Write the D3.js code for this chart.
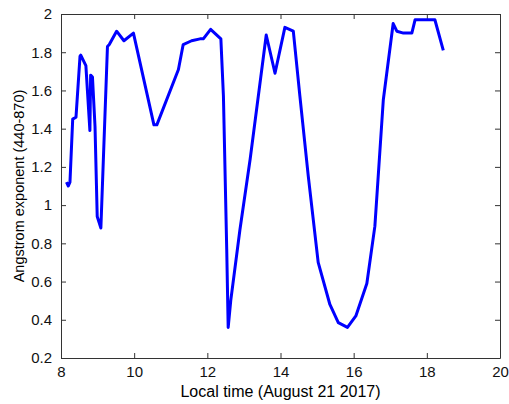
<!DOCTYPE html>
<html>
<head>
<meta charset="utf-8">
<script src="https://cdn.jsdelivr.net/npm/d3@7"></script>
<style>
  body { margin: 0; background: #fff; }
  svg { display: block; font-family: "Liberation Sans", Arial, sans-serif; }
  .axis path, .axis line { stroke: #333; }
  .axis text { font-size: 15px; fill: #111; }
</style>
</head>
<body>
<svg id="chart" width="509" height="404"></svg>
<script>
// Local time (hours) and Angstrom exponent (440-870)
const hours = [8.15, 8.2, 8.245, 8.32, 8.41, 8.52, 8.54, 8.68, 8.79, 8.81, 8.86, 8.93, 8.99, 9.09,
  9.27, 9.32, 9.52, 9.72, 9.98, 10.54, 10.62, 11.21, 11.34, 11.57, 11.8, 11.89, 12.09, 12.37,
  12.44, 12.53, 12.57, 12.64, 12.89, 13.17, 13.61, 13.85, 14.12, 14.35, 14.53, 14.76, 15.03,
  15.35, 15.58, 15.83, 16.06, 16.36, 16.58, 16.81, 17.08, 17.18, 17.36, 17.59, 17.68, 18.22, 18.45];
const angstrom = [1.12, 1.1, 1.12, 1.45, 1.46, 1.78, 1.785, 1.73, 1.39, 1.68, 1.67, 1.41, 0.94, 0.88,
  1.83, 1.84, 1.91, 1.86, 1.9, 1.42, 1.42, 1.71, 1.84, 1.86, 1.87, 1.87, 1.92, 1.87,
  1.57, 0.77, 0.36, 0.5, 0.87, 1.24, 1.89, 1.69, 1.93, 1.91, 1.57, 1.15, 0.7,
  0.48, 0.385, 0.36, 0.42, 0.59, 0.89, 1.55, 1.95, 1.91, 1.9, 1.9, 1.97, 1.97, 1.81];

const xTicks = [8, 10, 12, 14, 16, 18, 20];
const yTicks = [0.2, 0.4, 0.6, 0.8, 1, 1.2, 1.4, 1.6, 1.8, 2];

const svg = d3.select('#chart');
const margin = { top: 14, right: 9, bottom: 46, left: 61 };
const width = 509 - margin.left - margin.right;
const height = 404 - margin.top - margin.bottom;

const g = svg.append('g')
    .attr('transform', `translate(${margin.left},${margin.top})`);

const x = d3.scaleLinear().domain([8, 20]).range([0, width]);
const y = d3.scaleLinear().domain([0.2, 2]).range([height, 0]);

// box with inward ticks on all four sides (matlab style)
g.append('g').attr('class', 'axis')
    .attr('transform', `translate(0,${height})`)
    .call(d3.axisBottom(x).tickValues(xTicks).tickSize(-5).tickPadding(8).tickSizeOuter(0))
    .selectAll('text').attr('dy', '0.75em');
g.append('g').attr('class', 'axis')
    .call(d3.axisTop(x).tickValues(xTicks).tickSize(-5).tickFormat('').tickSizeOuter(0));
g.append('g').attr('class', 'axis')
    .call(d3.axisLeft(y).tickValues(yTicks).tickSize(-5).tickPadding(9).tickSizeOuter(0)
        .tickFormat(d3.format('')));
g.append('g').attr('class', 'axis')
    .attr('transform', `translate(${width},0)`)
    .call(d3.axisRight(y).tickValues(yTicks).tickSize(-5).tickFormat('').tickSizeOuter(0));

const line = d3.line()
    .x((d, i) => x(hours[i]))
    .y(d => y(d));

g.append('path')
    .datum(angstrom)
    .attr('fill', 'none')
    .attr('stroke', '#0000ff')
    .attr('stroke-width', 3)
    .attr('stroke-linejoin', 'round')
    .attr('d', line);

// axis labels
g.append('text')
    .attr('x', width / 2)
    .attr('y', height + 39)
    .attr('text-anchor', 'middle')
    .style('font-size', '16px')
    .text('Local time (August 21 2017)');

g.append('text')
    .attr('transform', 'rotate(-90)')
    .attr('x', -height / 2)
    .attr('y', -37)
    .attr('text-anchor', 'middle')
    .style('font-size', '14.5px')
    .text('Angstrom exponent (440-870)');
</script>
</body>
</html>
